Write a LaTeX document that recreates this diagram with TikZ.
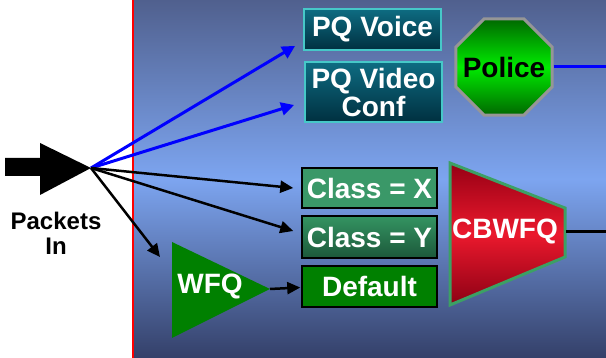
\documentclass[tikz,border=0pt]{standalone}
\usepackage{fontspec}
\setmainfont{Liberation Sans}
\usetikzlibrary{arrows.meta,shapes.geometric,calc}

\definecolor{bgtop}{RGB}{80,96,142}
\definecolor{bgmid}{RGB}{125,165,240}
\definecolor{bgbot}{RGB}{52,64,105}
\definecolor{pqtop}{RGB}{14,108,130}
\definecolor{pqbot}{RGB}{0,48,64}
\definecolor{pqedge}{RGB}{70,200,200}
\definecolor{classx}{RGB}{58,152,104}
\definecolor{classytop}{RGB}{52,148,98}
\definecolor{classybot}{RGB}{28,88,58}
\definecolor{dfltgreen}{RGB}{0,128,0}
\definecolor{polbright}{RGB}{0,235,0}
\definecolor{poldark}{RGB}{0,105,0}
\definecolor{poledge}{RGB}{150,150,150}
\definecolor{redtop}{RGB}{150,0,20}
\definecolor{redmid}{RGB}{235,25,45}
\definecolor{redbot}{RGB}{140,0,20}
\definecolor{cbedge}{RGB}{60,160,100}

\tikzset{
  lbl/.style={font=\bfseries\fontsize{28}{30}\selectfont},
  qbox/.style={rectangle, inner sep=0pt, text=white, lbl},
  pqbox/.style={qbox, draw=pqedge, line width=1.8pt, top color=pqtop, bottom color=pqbot},
  clbox/.style={qbox, draw=black, line width=1.5pt},
  bluearrow/.style={draw=blue, line width=3pt, -{Triangle[length=13pt,width=13pt]}},
  blackarrow/.style={draw=black, line width=2.5pt, -{Triangle[length=13pt,width=12pt]}},
}

\begin{document}
\begin{tikzpicture}[x=1pt,y=-1pt]
  \useasboundingbox (0,0) rectangle (606,358);

  % backgrounds
  \fill[white] (0,0) rectangle (134,358);
  \shade[top color=bgtop, bottom color=bgbot, middle color=bgmid] (134,0) rectangle (606,358);
  \draw[red, line width=2pt] (133,0) -- (133,358);

  % incoming packets arrow
  \fill[black] (5,158) -- (40,158) -- (40,143) -- (91,168) -- (40,195) -- (40,176) -- (5,176) -- cycle;
  \coordinate (hub) at (91,168);
  \node[font=\bfseries\fontsize{24}{25}\selectfont, align=center] (pkts) at (56,233) {Packets\\In};

  % priority queues
  \node[pqbox, minimum width=137pt, minimum height=41pt] (pqv) at (372.5,29.5) {PQ Voice};
  \node[pqbox, minimum width=137pt, minimum height=60pt, align=center] (pqvc) at (373.5,92) {PQ Video\\[-2pt]Conf};

  % policer
  \node[regular polygon, regular polygon sides=8, minimum size=104pt, inner sep=0pt,
        draw=poledge, line width=3pt, top color=poldark, bottom color=poldark, middle color=polbright]
        (pol) at (504,67) {};
  \node[lbl, text=black] (poltext) at (pol.center) {Police};
  \coordinate (polout) at (606,67);
  \draw[blue, line width=3pt] (pol.east) -- (polout);

  % class queues
  \node[clbox, fill=classx, minimum width=135pt, minimum height=40pt] (cx) at (369.5,188) {Class = X};
  \node[clbox, top color=classytop, bottom color=classybot, minimum width=135pt, minimum height=42pt] (cy) at (369.5,237) {Class = Y};
  \node[clbox, fill=dfltgreen, minimum width=135pt, minimum height=41pt] (dflt) at (369.5,286.5) {Default};

  % WFQ scheduler
  \fill[dfltgreen] (172,242) -- (270,289) -- (172,338) -- cycle;
  \coordinate (wfqin) at (172,246);
  \coordinate (wfqtip) at (270,289);
  \node[lbl, text=white] (wfq) at (210,286) {WFQ};

  % CBWFQ scheduler
  \shade[top color=redtop, bottom color=redbot, middle color=redmid]
    (450,163) -- (565,208) -- (565,257) -- (450,305) -- cycle;
  \draw[cbedge, line width=3pt, line join=miter]
    (450,163) -- (565,208) -- (565,257) -- (450,305) -- cycle;
  \node[lbl, text=white] (cb) at (505,231) {CBWFQ};
  \coordinate (cbout) at (566,232);
  \coordinate (cbend) at (606,232);
  \draw[black, line width=3pt] (cbout) -- (cbend);

  % classification arrows
  \draw[bluearrow] (hub) -- ($(pqv.south west)+(-8,-5)$);
  \draw[bluearrow] (hub) -- ($(pqvc.west)+(-10,13)$);
  \draw[blackarrow] (hub) -- ($(cx.west)+(-8,0)$);
  \draw[blackarrow] (hub) -- ($(cy.west)+(-8,-6)$);
  \draw[blackarrow] (hub) -- ($(wfqin)+(-12,11)$);
  \draw[blackarrow] (wfqtip) -- ($(dflt.west)+(-1,1)$);
\end{tikzpicture}
\end{document}
